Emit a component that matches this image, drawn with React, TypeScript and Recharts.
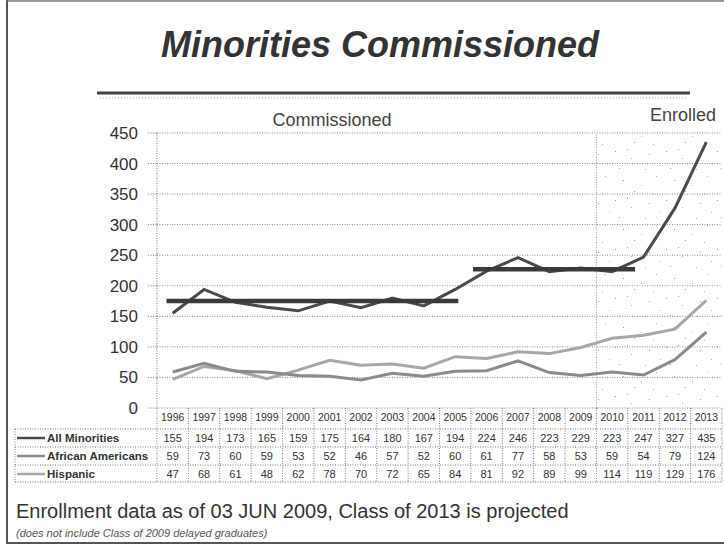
import React from 'react';
import {
  LineChart,
  Line,
  XAxis,
  YAxis,
  CartesianGrid,
  ReferenceLine,
  ReferenceArea,
  Customized,
} from 'recharts';

const years = [1996, 1997, 1998, 1999, 2000, 2001, 2002, 2003, 2004, 2005, 2006, 2007, 2008, 2009, 2010, 2011, 2012, 2013];
const allMinorities = [155, 194, 173, 165, 159, 175, 164, 180, 167, 194, 224, 246, 223, 229, 223, 247, 327, 435];
const africanAmericans = [59, 73, 60, 59, 53, 52, 46, 57, 52, 60, 61, 77, 58, 53, 59, 54, 79, 124];
const hispanic = [47, 68, 61, 48, 62, 78, 70, 72, 65, 84, 81, 92, 89, 99, 114, 119, 129, 176];
const yTicks = [0, 50, 100, 150, 200, 250, 300, 350, 400, 450];
const seriesNames = ['All Minorities', 'African Americans', 'Hispanic'];
const commissionedAvg = 175;
const commissionedSpan = [1995.8, 2005.1];
const enrolledAvg = 227;
const enrolledSpan = [2005.57, 2010.73];
const enrolledStart = 2009.5;

const FONT = '"Liberation Sans", Arial, sans-serif';
const COLORS = ['#4a4a4a', '#8a8a8a', '#a6a6a6'];
const seriesValues = [allMinorities, africanAmericans, hispanic];

const data = years.map((y, i) => ({
  year: y,
  all: allMinorities[i],
  aa: africanAmericans[i],
  hisp: hispanic[i],
}));

const CHART_W = 724;
const CHART_H = 546;
const PLOT_LEFT = 157;
const PLOT_RIGHT_MARGIN = 2;
const COLW = (CHART_W - PLOT_LEFT - PLOT_RIGHT_MARGIN) / years.length;
const ROW_Y = [438, 456, 474];
const TABLE_TOP = 408;
const TABLE_BOTTOM = 482;
const DOT = '1 1.5';

const STIPPLE_DOTS = [
  [3, 4], [19, 11], [37, 7], [44, 29], [11, 33], [29, 38], [7, 21], [33, 22], [22, 44], [41, 46], [15, 2], [48, 16],
];

function TableTick(props: any) {
  const { x, payload } = props;
  const i = years.indexOf(payload.value);
  if (i < 0) return null;
  const left = x - COLW / 2;
  return (
    <g>
      <line x1={left} y1={TABLE_TOP} x2={left} y2={TABLE_BOTTOM} stroke="#777" strokeDasharray={DOT} />
      {i === years.length - 1 && (
        <line x1={left + COLW} y1={TABLE_TOP} x2={left + COLW} y2={TABLE_BOTTOM} stroke="#777" strokeDasharray={DOT} />
      )}
      <text x={x} y={421} textAnchor="middle" fontSize={10.5} fill="#333" fontFamily={FONT}>
        {payload.value}
      </text>
      {seriesValues.map((vals, r) => (
        <text key={r} x={x} y={ROW_Y[r] + 4} textAnchor="middle" fontSize={11} fill="#333" fontFamily={FONT}>
          {vals[i]}
        </text>
      ))}
    </g>
  );
}

function Decor() {
  return (
    <g>
      <defs>
        <pattern id="stipple" width="51" height="49" patternUnits="userSpaceOnUse">
          {STIPPLE_DOTS.map(([px, py], k) => (
            <rect key={k} x={px} y={py} width="1" height="1" fill={k % 2 ? '#b0b0b0' : '#9a9a9a'} />
          ))}
        </pattern>
      </defs>
      {/* frame */}
      <line x1={7} y1={0} x2={7} y2={544} stroke="#555" strokeWidth={2} />
      <line x1={7} y1={1} x2={724} y2={1} stroke="#777" strokeWidth={1.5} />
      <line x1={7} y1={543} x2={724} y2={543} stroke="#555" strokeWidth={2} />
      {/* title */}
      <text x={380} y={57} textAnchor="middle" fontSize={36} fontWeight="bold" fontStyle="italic" fill="#333" fontFamily={FONT}>
        Minorities Commissioned
      </text>
      <line x1={97} y1={93} x2={690} y2={93} stroke="#444" strokeWidth={3} />
      <line x1={100} y1={98} x2={686} y2={98} stroke="#aaa" strokeWidth={1} strokeDasharray="1 2" />
      <text x={332} y={126} textAnchor="middle" fontSize={18} fill="#444" fontFamily={FONT}>
        Commissioned
      </text>
      <text x={683} y={121} textAnchor="middle" fontSize={18} fill="#444" fontFamily={FONT}>
        Enrolled
      </text>
      {/* table */}
      {[429, 447, 465, 482].map((y) => (
        <line key={y} x1={15} y1={y} x2={722} y2={y} stroke="#777" strokeDasharray={DOT} />
      ))}
      <line x1={15} y1={429} x2={15} y2={482} stroke="#777" strokeDasharray={DOT} />
      {seriesNames.map((name, r) => (
        <g key={name}>
          <line x1={17} y1={ROW_Y[r]} x2={45} y2={ROW_Y[r]} stroke={COLORS[r]} strokeWidth={2.5} />
          <text x={47} y={ROW_Y[r] + 4} fontSize={11.5} fontWeight="bold" fill="#333" fontFamily={FONT}>
            {name}
          </text>
        </g>
      ))}
      {/* footer */}
      <text x={16} y={518} fontSize={20} fill="#333" fontFamily={FONT}>
        Enrollment data as of 03 JUN 2009, Class of 2013 is projected
      </text>
      <text x={16} y={537} fontSize={11} fontStyle="italic" fill="#555" fontFamily={FONT}>
        (does not include Class of 2009 delayed graduates)
      </text>
    </g>
  );
}

export default function App() {
  return (
    <div style={{ position: 'absolute', left: 0, top: 0, width: CHART_W, height: CHART_H, background: '#fff' }}>
      <LineChart
        width={CHART_W}
        height={CHART_H}
        data={data}
        margin={{ top: 133, right: PLOT_RIGHT_MARGIN, left: 0, bottom: 58 }}
      >
        <Customized component={<Decor />} />
        <ReferenceArea
          x1={enrolledStart}
          x2={years[years.length - 1] + 0.5}
          y1={0}
          y2={450}
          fill="url(#stipple)"
          fillOpacity={1}
          stroke="none"
          ifOverflow="extendDomain"
        />
        <ReferenceLine x={enrolledStart} stroke="#999" strokeDasharray={DOT} />
        <CartesianGrid vertical={false} stroke="#888" strokeDasharray={DOT} />
        <XAxis
          dataKey="year"
          type="number"
          domain={[years[0] - 0.5, years[years.length - 1] + 0.5]}
          ticks={years}
          interval={0}
          height={80}
          tickSize={0}
          tickMargin={0}
          axisLine={false}
          tickLine={false}
          tick={<TableTick />}
          allowDataOverflow
        />
        <YAxis
          domain={[0, 450]}
          ticks={yTicks}
          interval={0}
          width={PLOT_LEFT}
          tickSize={9}
          tickMargin={10}
          tick={{ fontSize: 17, fill: '#333', fontFamily: FONT }}
          tickLine={{ stroke: '#777', strokeDasharray: DOT }}
          axisLine={{ stroke: '#777', strokeDasharray: DOT }}
        />
        <Line type="linear" dataKey="hisp" name={seriesNames[2]} stroke={COLORS[2]} strokeWidth={3} dot={false} isAnimationActive={false} />
        <Line type="linear" dataKey="aa" name={seriesNames[1]} stroke={COLORS[1]} strokeWidth={3} dot={false} isAnimationActive={false} />
        <Line type="linear" dataKey="all" name={seriesNames[0]} stroke={COLORS[0]} strokeWidth={3} dot={false} isAnimationActive={false} />
        <ReferenceLine
          segment={[{ x: commissionedSpan[0], y: commissionedAvg }, { x: commissionedSpan[1], y: commissionedAvg }]}
          stroke="#3a3a3a"
          strokeWidth={4.5}
        />
        <ReferenceLine
          segment={[{ x: enrolledSpan[0], y: enrolledAvg }, { x: enrolledSpan[1], y: enrolledAvg }]}
          stroke="#3a3a3a"
          strokeWidth={4.5}
        />
      </LineChart>
    </div>
  );
}
